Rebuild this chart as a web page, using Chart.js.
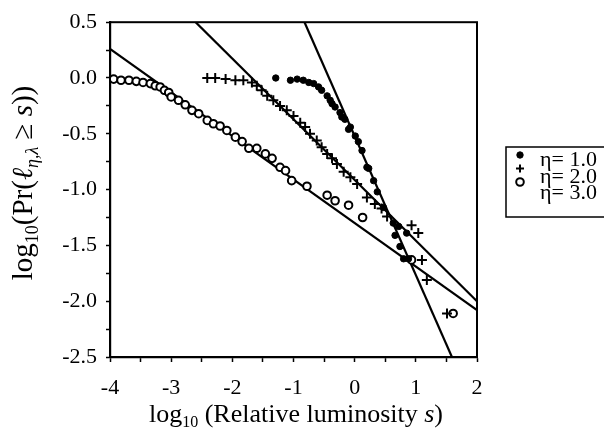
<!DOCTYPE html>
<html>
<head>
<meta charset="utf-8">
<script src="https://cdn.jsdelivr.net/npm/chart.js@4.4.1/dist/chart.umd.min.js"></script>
<style>
  html, body { margin: 0; padding: 0; background: #fff; }
</style>
</head>
<body>
<canvas id="lumChart" width="604" height="440"></canvas>
<script>
// eta = 1.0 (filled dots)
var eta1X = [-1.29, -1.05, -0.94, -0.84, -0.75, -0.67, -0.59, -0.54, -0.45, -0.40, -0.37, -0.32, -0.24, -0.21, -0.16, -0.10, -0.07, 0.01, 0.06, 0.12, 0.20, 0.23, 0.31, 0.37, 0.47, 0.63, 0.72, 0.66, 0.85, 0.74, 0.80, 0.88];
var eta1Y = [0.00, -0.02, -0.01, -0.02, -0.04, -0.05, -0.08, -0.11, -0.16, -0.20, -0.23, -0.26, -0.31, -0.35, -0.37, -0.46, -0.44, -0.52, -0.57, -0.65, -0.80, -0.81, -0.92, -1.02, -1.16, -1.30, -1.33, -1.41, -1.39, -1.51, -1.62, -1.62];

// eta = 2.0 (plus signs)
var eta2X = [-2.41, -2.28, -2.11, -1.95, -1.82, -1.68, -1.60, -1.52, -1.43, -1.33, -1.22, -1.11, -1.00, -0.89, -0.81, -0.73, -0.62, -0.54, -0.45, -0.37, -0.29, -0.18, -0.07, 0.04, 0.20, 0.33, 0.44, 0.53, 0.93, 1.04, 1.10, 1.18, 1.51];
var eta2Y = [0.00, 0.00, -0.01, -0.02, -0.02, -0.04, -0.07, -0.11, -0.16, -0.20, -0.25, -0.29, -0.34, -0.40, -0.44, -0.50, -0.56, -0.62, -0.68, -0.72, -0.77, -0.84, -0.89, -0.95, -1.07, -1.13, -1.17, -1.24, -1.32, -1.39, -1.63, -1.81, -2.11];

// eta = 3.0 (open circles)
var eta3X = [-3.94, -3.82, -3.69, -3.57, -3.46, -3.34, -3.26, -3.18, -3.11, -3.04, -3.00, -2.88, -2.77, -2.66, -2.55, -2.41, -2.31, -2.20, -2.09, -1.95, -1.84, -1.73, -1.60, -1.46, -1.35, -1.22, -1.13, -1.03, -0.78, -0.45, -0.32, -0.10, 0.13, 0.93, 1.61];
var eta3Y = [-0.01, -0.02, -0.02, -0.03, -0.04, -0.05, -0.07, -0.08, -0.11, -0.13, -0.17, -0.20, -0.24, -0.29, -0.32, -0.38, -0.41, -0.43, -0.47, -0.53, -0.57, -0.63, -0.63, -0.68, -0.72, -0.80, -0.83, -0.92, -0.97, -1.05, -1.10, -1.14, -1.25, -1.63, -2.11];

// fitted straight lines (end points)
var fit1X = [-0.82, 1.59];
var fit1Y = [0.5, -2.5];
var fit2X = [-2.60, 2.0];
var fit2Y = [0.5, -2.0];
var fit3X = [-4.0, 2.0];
var fit3Y = [0.26, -2.08];

var seriesLabels = ["\u03b7= 1.0", "\u03b7= 2.0", "\u03b7= 3.0"];

function pts(xs, ys) {
  return xs.map(function (x, i) { return { x: x, y: ys[i] }; });
}

var SERIF = "'Liberation Serif', 'Times New Roman', serif";

// draws a row of text pieces with different fonts, centred on cx
function drawRuns(ctx, runs, cx, baseline) {
  var total = 0;
  runs.forEach(function (r) {
    ctx.font = r.font;
    r.w = ctx.measureText(r.text).width;
    total += r.w;
  });
  var x = cx - total / 2;
  runs.forEach(function (r) {
    ctx.font = r.font;
    ctx.fillText(r.text, x, baseline + (r.dy || 0));
    x += r.w;
  });
}

var framePlugin = {
  id: 'frame',
  afterDraw: function (chart) {
    var ctx = chart.ctx, a = chart.chartArea;
    ctx.save();
    ctx.strokeStyle = '#000';
    ctx.lineWidth = 2;
    ctx.strokeRect(a.left, a.top, a.right - a.left, a.bottom - a.top);

    // axis titles
    ctx.fillStyle = '#000';
    ctx.textBaseline = 'alphabetic';
    ctx.textAlign = 'left';
    var big = "26px " + SERIF, sub = "16px " + SERIF;
    drawRuns(ctx, [
      { text: "log", font: big },
      { text: "10", font: sub, dy: 5 },
      { text: " (Relative luminosity ", font: big },
      { text: "s", font: "italic " + big },
      { text: ")", font: big }
    ], 296, 422);

    var bigY = "29px " + SERIF, subY = "18px " + SERIF;
    ctx.save();
    ctx.translate(32, 183);
    ctx.rotate(-Math.PI / 2);
    drawRuns(ctx, [
      { text: "log", font: bigY },
      { text: "10", font: subY, dy: 6 },
      { text: "(Pr(", font: bigY },
      { text: "\u2113", font: "italic " + bigY },
      { text: "\u03b7,\u03bb", font: "italic " + subY, dy: 6 },
      { text: " \u2265 ", font: bigY },
      { text: "s", font: "italic " + bigY },
      { text: "))", font: bigY }
    ], 0, 0);
    ctx.restore();

    // legend box
    ctx.lineWidth = 1.5;
    ctx.strokeRect(506, 147, 110, 70);
    var symY = [155, 168.5, 182];
    var txtY = [160.5, 177.5, 193];
    ctx.font = "22px " + SERIF;
    ctx.textBaseline = 'middle';
    for (var i = 0; i < 3; i++) {
      var ds = chart.data.datasets[i];
      var sx = 520, sy = symY[i];
      ctx.beginPath();
      ctx.lineWidth = ds.borderWidth;
      ctx.strokeStyle = '#000';
      ctx.fillStyle = ds.backgroundColor;
      if (ds.pointStyle === 'cross') {
        ctx.moveTo(sx - 4, sy); ctx.lineTo(sx + 4, sy);
        ctx.moveTo(sx, sy - 4); ctx.lineTo(sx, sy + 4);
        ctx.stroke();
      } else {
        ctx.arc(sx, sy, ds.pointRadius, 0, Math.PI * 2);
        ctx.fill();
        ctx.stroke();
      }
      ctx.fillStyle = '#000';
      ctx.fillText(ds.label, 540, txtY[i]);
    }
    ctx.restore();
  }
};

var tickFont = { family: SERIF, size: 22 };

new Chart(document.getElementById('lumChart'), {
  type: 'scatter',
  data: {
    datasets: [
      { label: seriesLabels[0], data: pts(eta1X, eta1Y), pointStyle: 'circle', pointRadius: 3.2,
        backgroundColor: '#000', borderColor: '#000', borderWidth: 1 },
      { label: seriesLabels[1], data: pts(eta2X, eta2Y), pointStyle: 'cross', pointRadius: 5,
        backgroundColor: '#000', borderColor: '#000', borderWidth: 2 },
      { label: seriesLabels[2], data: pts(eta3X, eta3Y), pointStyle: 'circle', pointRadius: 3.8,
        backgroundColor: '#fff', borderColor: '#000', borderWidth: 2 },
      { label: 'fit1', data: pts(fit1X, fit1Y), showLine: true, pointRadius: 0, borderColor: '#000', borderWidth: 2.2 },
      { label: 'fit2', data: pts(fit2X, fit2Y), showLine: true, pointRadius: 0, borderColor: '#000', borderWidth: 2.2 },
      { label: 'fit3', data: pts(fit3X, fit3Y), showLine: true, pointRadius: 0, borderColor: '#000', borderWidth: 2.2 }
    ]
  },
  options: {
    responsive: false,
    animation: false,
    devicePixelRatio: 1,
    layout: { padding: { left: 40, right: 127, top: 21, bottom: 0 } },
    plugins: {
      legend: { display: false },
      tooltip: { enabled: false }
    },
    scales: {
      x: {
        type: 'linear',
        min: -4, max: 2,
        ticks: {
          stepSize: 0.5, autoSkip: false, maxRotation: 0, color: '#000', font: tickFont, padding: 13,
          callback: function (v) { return Number.isInteger(v) ? String(v) : ''; }
        },
        grid: { drawOnChartArea: false, tickLength: 5, tickColor: '#000', tickWidth: 1.5 },
        border: { color: '#000', width: 2.2 },
        afterFit: function (s) { s.height = 83; }
      },
      y: {
        min: -2.5, max: 0.5,
        ticks: {
          stepSize: 0.25, autoSkip: false, color: '#000', font: tickFont, padding: 9,
          callback: function (v) {
            return Math.abs(v * 2 - Math.round(v * 2)) < 1e-9 ? v.toFixed(1) : '';
          }
        },
        grid: { drawOnChartArea: false, tickLength: 4, tickColor: '#000', tickWidth: 1.5 },
        border: { color: '#000', width: 2.2 },
        afterFit: function (s) { s.width = 70; }
      }
    }
  },
  plugins: [framePlugin]
});
</script>
</body>
</html>
